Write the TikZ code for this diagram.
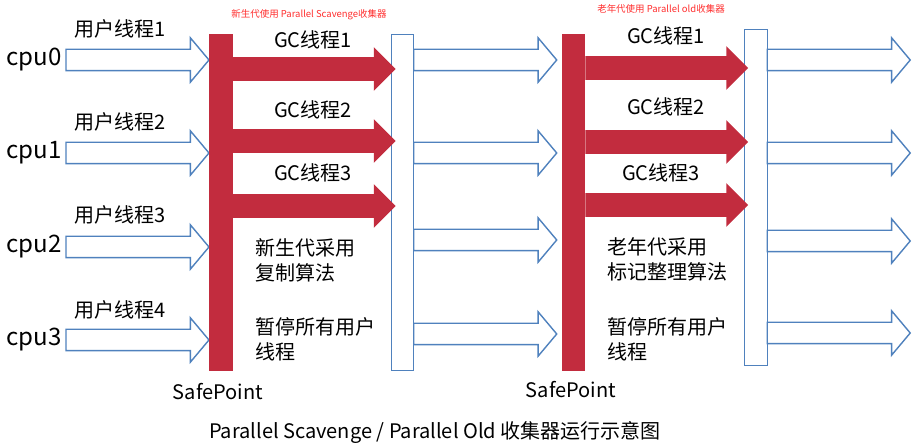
\documentclass[tikz,border=0pt]{standalone}
\usepackage{fontspec}
\setmainfont{Noto Sans CJK SC}
\usetikzlibrary{shapes, arrows, calc, positioning}

\definecolor{gcred}{RGB}{194,44,62}
\definecolor{lineblue}{RGB}{79,129,189}
\definecolor{notered}{RGB}{255,45,45}

\begin{document}
\begin{tikzpicture}[x=0.02cm, y=-0.02cm]
	\tikzstyle{thread} = [single arrow, draw=lineblue, line width=0.8pt, fill=white, inner sep=0.2cm, outer sep=0pt, single arrow head extend=0.23cm, single arrow tip angle=100, minimum height=2.86cm, anchor=tail]
	\tikzstyle{gcthread} = [single arrow, fill=gcred, inner sep=0.23cm, outer sep=0pt, single arrow head extend=0.2cm, single arrow tip angle=90, minimum height=3.26cm, anchor=tail]
	\tikzstyle{safepoint} = [fill=gcred, minimum width=0.47cm, minimum height=6.74cm, inner sep=0pt, outer sep=0pt]
	\tikzstyle{barrier} = [draw=lineblue, line width=0.8pt, fill=white, minimum width=0.45cm, minimum height=6.72cm, inner sep=0pt, outer sep=0pt]
	\tikzstyle{txt} = [inner sep=0pt, align=left, font=\fontsize{11.4}{14.2}\selectfont]
	\tikzstyle{cpu} = [inner sep=0pt, font=\fontsize{13.7}{16}\selectfont]
	\tikzstyle{remark} = [inner sep=0pt, text=notered, font=\fontsize{5.4}{6.5}\selectfont]

	\useasboundingbox (0,0) rectangle (913,448);

	% young generation, Parallel Scavenge
	\begin{scope}
		\path
			node[cpu] (c0) at (34,60) {cpu0}
			node[cpu] (c1) at (34,153) {cpu1}
			node[cpu] (c2) at (34,247) {cpu2}
			node[cpu] (c3) at (34,340) {cpu3}

			node[thread] (u0) at (66,60) {}
			node[thread] (u1) at (66,153) {}
			node[thread] (u2) at (66,247) {}
			node[thread] (u3) at (66,340) {}

			node[txt] (ut0) at (120,29) {用户线程1}
			node[txt] (ut1) at (120,122) {用户线程2}
			node[txt] (ut2) at (120,215) {用户线程3}
			node[txt] (ut3) at (120,310) {用户线程4}

			node[safepoint] (sp1) at (221,202.5) {}
			node[barrier] (bar1) at (402.5,202.5) {}

			node[thread] (m0) at (bar1.east |- 0,60) {}
			node[thread] (m1) at (bar1.east |- 0,153) {}
			node[thread] (m2) at (bar1.east |- 0,240) {}
			node[thread] (m3) at (bar1.east |- 0,334) {}

			node[gcthread] (g1) at (sp1.east |- 0,69) {}
			node[gcthread] (g2) at (sp1.east |- 0,141) {}
			node[gcthread] (g3) at (sp1.east |- 0,206) {}

			node[txt] (gt1) at (313,40) {GC线程1}
			node[txt] (gt2) at (313,110) {GC线程2}
			node[txt] (gt3) at (313,173) {GC线程3}

			node[txt, anchor=west] (copy) at (255,260) {新生代采用\\复制算法}
			node[txt, anchor=west] (stop1) at (255,339.5) {暂停所有用户\\线程}
			node[txt] (safe1) at (218,392) {SafePoint}
			node[remark] (young) at (309,15) {新生代使用 Parallel Scavenge收集器}
		;
	\end{scope}

	% old generation, Parallel Old
	\begin{scope}
		\path
			node[safepoint] (sp2) at (573.5,202.5) {}
			node[barrier] (bar2) at (756,197.5) {}

			node[thread] (r0) at (bar2.east |- 0,60) {}
			node[thread] (r1) at (bar2.east |- 0,153) {}
			node[thread] (r2) at (bar2.east |- 0,241) {}
			node[thread] (r3) at (bar2.east |- 0,333) {}

			node[gcthread] (h1) at (sp2.east |- 0,68) {}
			node[gcthread] (h2) at (sp2.east |- 0,142) {}
			node[gcthread] (h3) at (sp2.east |- 0,205) {}

			node[txt] (ht1) at (666,36) {GC线程1}
			node[txt] (ht2) at (666,107) {GC线程2}
			node[txt] (ht3) at (661,173) {GC线程3}

			node[txt, anchor=west] (mark) at (607,259.5) {老年代采用\\标记整理算法}
			node[txt, anchor=west] (stop2) at (607,339.5) {暂停所有用户\\线程}
			node[txt] (safe2) at (571,390) {SafePoint}
			node[remark] (old) at (661,9) {老年代使用 Parallel old收集器}
		;
	\end{scope}

	\node[txt] (title) at (435,433) {Parallel Scavenge / Parallel Old 收集器运行示意图};
\end{tikzpicture}
\end{document}
